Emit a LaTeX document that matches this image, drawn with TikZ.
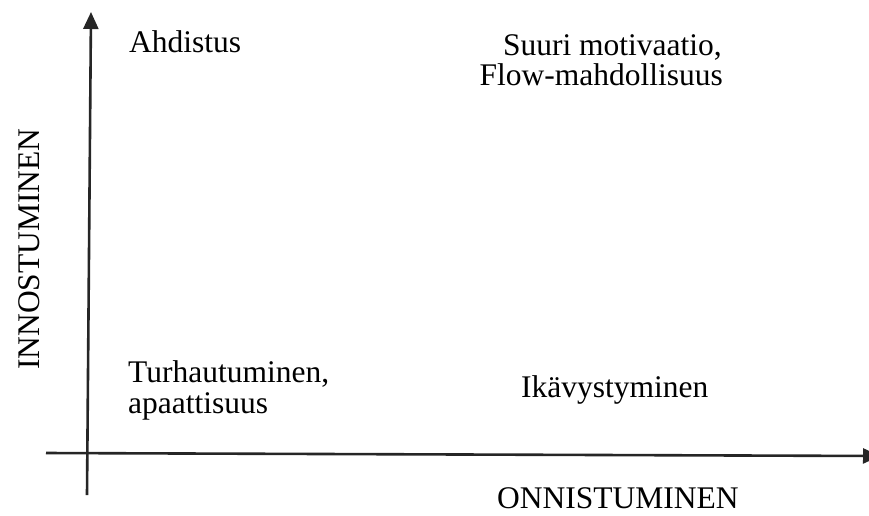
\documentclass[tikz,border=0pt]{standalone}
\usepackage{fontspec}
\setmainfont{Liberation Serif}
\usetikzlibrary{arrows.meta}
\begin{document}
\begin{tikzpicture}[x=1pt,y=-1pt,
  axis/.style={line width=2.6pt,draw=black!85,-{Triangle[length=17pt,width=15pt]}},
  lbl/.style={inner sep=0pt,font=\fontsize{31.5}{30}\selectfont}]
\useasboundingbox (0,0) rectangle (869,515);
% axes
\coordinate (xs) at (46,453);
\coordinate (xe) at (880,456);
\coordinate (ys) at (87,495);
\coordinate (ye) at (91,12);
\draw[axis] (xs) -- (xe);
\draw[axis] (ys) -- (ye);
% axis titles
\node[lbl,anchor=base west] (xl) at (497,508) {ONNISTUMINEN};
\node[lbl,anchor=base west,rotate=90] (yl) at (39,370) {INNOSTUMINEN};
% quadrant labels
\node[lbl,anchor=base west] (q1) at (129,52) {Ahdistus};
\node[lbl,anchor=base east] (q2a) at (722,55) {Suuri motivaatio,};
\node[lbl,anchor=base east] (q2b) at (723,85) {Flow-mahdollisuus};
\node[lbl,anchor=base west] (q3a) at (128,382) {Turhautuminen,};
\node[lbl,anchor=base west] (q3b) at (128,413) {apaattisuus};
\node[lbl,anchor=base west] (q4) at (521,397) {Ikävystyminen};
\end{tikzpicture}
\end{document}
